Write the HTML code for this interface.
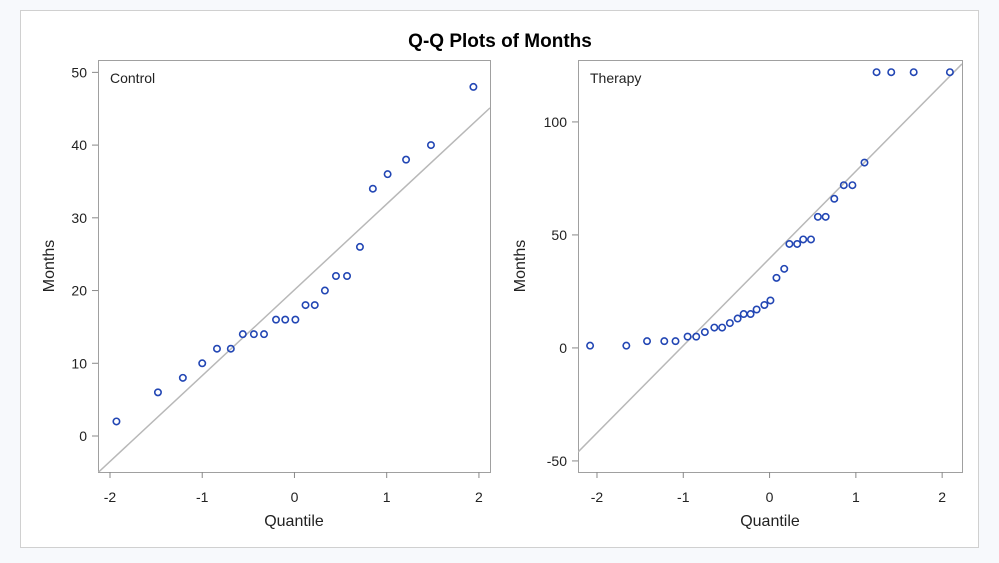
<!DOCTYPE html>
<html><head><meta charset="utf-8"><style>
body{margin:0;background:#f7f9fc;font-family:"Liberation Sans",Arial,sans-serif}
svg{display:block}
</style></head><body>
<svg id="c" width="999" height="563" font-family="Liberation Sans, Arial, sans-serif">
<rect x="20.5" y="10.5" width="958" height="537" fill="#fff" stroke="#d0d0d0"/>
<text x="500" y="47" text-anchor="middle" font-size="19" font-weight="bold" fill="#000">Q-Q Plots of Months</text>
</svg>
<script>
const controlQ=[-1.93,-1.48,-1.21,-1.0,-0.84,-0.69,-0.56,-0.44,-0.33,-0.20,-0.10,0.01,0.12,0.22,0.33,0.45,0.57,0.71,0.85,1.01,1.21,1.48,1.94];
const controlY=[2,6,8,10,12,12,14,14,14,16,16,16,18,18,20,22,22,26,34,36,38,40,48];
const therapyQ=[-2.08,-1.66,-1.42,-1.22,-1.09,-0.95,-0.85,-0.75,-0.64,-0.55,-0.46,-0.37,-0.30,-0.22,-0.15,-0.06,0.01,0.08,0.17,0.23,0.32,0.39,0.48,0.56,0.65,0.75,0.86,0.96,1.10,1.24,1.41,1.67,2.09];
const therapyY=[1,1,3,3,3,5,5,7,9,9,11,13,15,15,17,19,21,31,35,46,46,48,48,58,58,66,72,72,82,122,122,122,122];
const xTicks=[-2,-1,0,1,2];
const controlYTicks=[0,10,20,30,40,50];
const therapyYTicks=[-50,0,50,100];
const controlLine=[20.1,11.8];
const therapyLine=[39.6,38.6];
const NS='http://www.w3.org/2000/svg';
const svg=document.getElementById('c');
function mk(t,a,p){const e=document.createElementNS(NS,t);for(const k in a)e.setAttribute(k,a[k]);(p||svg).appendChild(e);return e;}
function panel(o){
  const g=mk('g',{});
  
  
  const sx=q=>o.x0+(q-o.qmin)/(o.qmax-o.qmin)*(o.x1-o.x0);
  const sy=v=>o.y1-(v-o.vmin)/(o.vmax-o.vmin)*(o.y1-o.y0);
  const fr=mk('rect',{x:o.x0+.5,y:o.y0+.5,width:o.x1-o.x0,height:o.y1-o.y0,fill:'#fff',stroke:'#a0a0a0'},g);
  
  
  const cp=mk('clipPath',{id:'cp'+o.name},g);
  mk('rect',{x:o.x0,y:o.y0,width:o.x1-o.x0,height:o.y1-o.y0},cp);
  const ln=mk('line',{x1:sx(o.qmin),y1:sy(o.line[0]+o.line[1]*o.qmin),x2:sx(o.qmax),y2:sy(o.line[0]+o.line[1]*o.qmax),stroke:'#b8b8b8','stroke-width':1.5,'clip-path':'url(#cp'+o.name+')'},g);
  
  
  for(const t of xTicks){
    const X=sx(t);
    mk('line',{x1:X,y1:o.y1,x2:X,y2:o.y1+6,stroke:'#888'},g);
    const tx=mk('text',{x:X,y:o.y1+30,'text-anchor':'middle','font-size':14,fill:'#222'},g);
    tx.textContent=t;
    
    
  }
  for(const t of o.yticks){
    const Y=sy(t);
    mk('line',{x1:o.x0-6,y1:Y,x2:o.x0,y2:Y,stroke:'#888'},g);
    const tx=mk('text',{x:o.x0-11,y:Y+5,'text-anchor':'end','font-size':14,fill:'#222'},g);
    tx.textContent=t;
    
    
  }
  for(let i=0;i<o.q.length;i++){
    const c=mk('circle',{cx:sx(o.q[i]),cy:sy(o.v[i]),r:3.2,fill:'none',stroke:'#2246b4','stroke-width':1.6},g);
    
    
  }
  const lb=mk('text',{x:o.x0+12,y:o.y0+23,'font-size':14,fill:'#222'},g);
  lb.textContent=o.label;
  
  
  const xt=mk('text',{x:(o.x0+o.x1)/2,y:526,'text-anchor':'middle','font-size':16,fill:'#222'},g);
  xt.textContent='Quantile';
  
  
  const cy=(o.y0+o.y1)/2;
  const yt=mk('text',{x:o.ytx,y:cy,'text-anchor':'middle','font-size':16,fill:'#222',transform:`rotate(-90 ${o.ytx} ${cy})`},g);
  yt.textContent='Months';
  
  
}
panel({name:'control',label:'Control',x0:98,x1:490,y0:60,y1:472,qmin:-2.13,qmax:2.12,vmin:-4.95,vmax:51.7,q:controlQ,v:controlY,yticks:controlYTicks,line:controlLine,ytx:54});
panel({name:'therapy',label:'Therapy',x0:578,x1:962,y0:60,y1:472,qmin:-2.22,qmax:2.23,vmin:-54.9,vmax:127.4,q:therapyQ,v:therapyY,yticks:therapyYTicks,line:therapyLine,ytx:525});
</script>
</body></html>
